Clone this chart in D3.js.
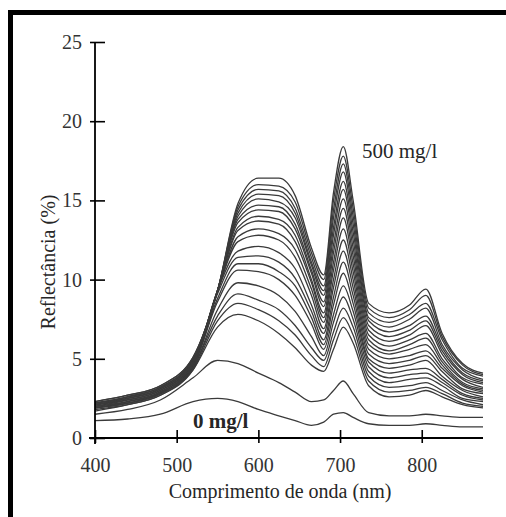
<!DOCTYPE html>
<html>
<head>
<meta charset="utf-8">
<script src="https://cdn.jsdelivr.net/npm/d3@7"></script>
<style>
  body { margin: 0; background: #fff; }
  svg { display: block; }
  text { font-family: "Liberation Serif", "Times New Roman", serif; fill: #262626; }
</style>
</head>
<body>
<svg id="chart" width="506" height="517"></svg>
<script>
// wavelength grid (nm) and reflectance (%) per concentration
const wavelengths = [400, 440, 480, 520, 550, 575, 600, 625, 645, 665, 680, 692, 704, 716, 735, 760, 785, 805, 825, 850, 875];
const r000 = [1.1, 1.2, 1.5, 2.3, 2.5, 2.3, 1.8, 1.4, 1.1, 0.8, 1.0, 1.5, 1.6, 1.3, 0.9, 0.8, 0.8, 0.9, 0.8, 0.7, 0.7];
const r025 = [1.5, 1.8, 2.4, 3.8, 4.9, 4.7, 4.1, 3.5, 2.9, 2.3, 2.4, 3.0, 3.6, 2.8, 1.6, 1.4, 1.4, 1.5, 1.4, 1.3, 1.3];
const r050 = [1.7, 2.1, 2.7, 4.3, 7.0, 7.8, 7.4, 6.6, 5.7, 4.6, 4.2, 5.6, 7.0, 6.0, 3.3, 2.6, 2.7, 3.0, 2.6, 2.1, 1.9];
const r075 = [1.8, 2.1, 2.7, 4.3, 7.4, 8.5, 8.1, 7.4, 6.5, 5.2, 4.5, 6.2, 7.6, 6.5, 3.6, 2.9, 3.0, 3.2, 2.8, 2.2, 2.0];
const r100 = [1.9, 2.2, 2.8, 4.4, 7.7, 9.1, 8.7, 8.1, 7.1, 5.7, 4.9, 6.7, 8.2, 7.0, 3.9, 3.2, 3.3, 3.5, 3.0, 2.4, 2.1];
const r125 = [1.9, 2.2, 2.8, 4.4, 8.1, 9.8, 9.6, 9.0, 8.0, 6.4, 5.2, 7.3, 8.9, 7.5, 4.2, 3.5, 3.7, 3.8, 3.3, 2.5, 2.3];
const r150 = [1.9, 2.2, 2.8, 4.5, 8.6, 10.6, 10.5, 10.0, 9.0, 7.2, 5.6, 7.8, 9.6, 8.0, 4.5, 3.8, 4.0, 4.1, 3.5, 2.7, 2.4];
const r175 = [1.9, 2.3, 2.9, 4.5, 8.8, 11.0, 11.0, 10.5, 9.6, 7.6, 5.9, 8.4, 10.4, 8.5, 4.8, 4.1, 4.3, 4.4, 3.7, 2.8, 2.5];
const r200 = [2.0, 2.3, 2.9, 4.6, 9.1, 11.4, 11.5, 11.1, 10.1, 8.0, 6.2, 8.9, 11.1, 9.0, 5.0, 4.4, 4.6, 4.9, 3.9, 3.0, 2.6];
const r225 = [2.0, 2.3, 2.9, 4.6, 9.3, 11.8, 12.1, 11.7, 10.7, 8.4, 6.6, 9.5, 11.8, 9.5, 5.3, 4.7, 4.9, 5.2, 4.2, 3.1, 2.8];
const r250 = [2.0, 2.4, 3.0, 4.7, 9.3, 12.4, 12.8, 12.5, 11.4, 9.0, 6.9, 10.0, 12.5, 10.0, 5.6, 5.0, 5.2, 5.5, 4.4, 3.3, 2.9];
const r275 = [2.1, 2.4, 3.0, 4.7, 9.3, 12.7, 13.2, 12.9, 11.9, 9.4, 7.3, 10.6, 13.2, 10.5, 5.9, 5.3, 5.6, 5.9, 4.6, 3.4, 3.0];
const r300 = [2.1, 2.4, 3.0, 4.7, 9.3, 13.1, 13.7, 13.5, 12.4, 9.8, 7.6, 11.1, 13.9, 11.0, 6.2, 5.5, 5.9, 6.3, 4.8, 3.5, 3.1];
const r325 = [2.1, 2.5, 3.1, 4.8, 9.3, 13.3, 14.0, 13.8, 12.8, 10.0, 7.9, 11.7, 14.5, 11.5, 6.5, 5.8, 6.2, 6.6, 5.0, 3.7, 3.2];
const r350 = [2.1, 2.5, 3.1, 4.8, 9.3, 13.6, 14.4, 14.3, 13.2, 10.4, 8.3, 12.2, 15.1, 12.0, 6.8, 6.1, 6.5, 7.1, 5.3, 3.8, 3.4];
const r375 = [2.2, 2.5, 3.1, 4.9, 9.3, 13.8, 14.7, 14.6, 13.5, 10.6, 8.6, 12.8, 15.7, 12.5, 7.1, 6.4, 6.8, 7.4, 5.5, 4.0, 3.5];
const r400 = [2.2, 2.6, 3.2, 4.9, 9.3, 14.0, 15.1, 14.9, 13.9, 10.9, 9.0, 13.3, 16.2, 13.0, 7.4, 6.7, 7.1, 7.7, 5.7, 4.1, 3.6];
const r425 = [2.2, 2.6, 3.2, 5.0, 9.3, 14.2, 15.4, 15.3, 14.2, 11.1, 9.3, 13.9, 16.8, 13.5, 7.6, 7.0, 7.5, 8.2, 5.9, 4.3, 3.7];
const r450 = [2.2, 2.6, 3.2, 5.0, 9.3, 14.4, 15.7, 15.6, 14.5, 11.4, 9.6, 14.4, 17.3, 14.0, 7.9, 7.3, 7.8, 8.5, 6.2, 4.4, 3.9];
const r475 = [2.3, 2.7, 3.3, 5.1, 9.3, 14.6, 16.0, 15.9, 14.9, 11.7, 10.0, 15.0, 17.8, 14.5, 8.2, 7.6, 8.1, 9.0, 6.4, 4.6, 4.0];
const r500 = [2.3, 2.7, 3.3, 5.1, 9.3, 14.8, 16.4, 16.4, 15.3, 12.0, 10.3, 15.5, 18.4, 15.0, 8.5, 7.9, 8.4, 9.4, 6.6, 4.7, 4.1];
const series = [r000, r025, r050, r075, r100, r125, r150, r175, r200, r225, r250, r275, r300, r325, r350, r375, r400, r425, r450, r475, r500];
const xTicks = [400, 500, 600, 700, 800];
const yTicks = [0, 5, 10, 15, 20, 25];

const serif = '"Liberation Serif", "Times New Roman", serif';
const svg = d3.select("#chart");
const x = d3.scaleLinear().domain([400, 875]).range([95, 483]);
const y = d3.scaleLinear().domain([0, 25]).range([438, 42]);

// scan frame (top + left edge only)
svg.append("rect").attr("x", 8).attr("y", 10).attr("width", 498).attr("height", 5).attr("fill", "#000");
svg.append("rect").attr("x", 8).attr("y", 10).attr("width", 5).attr("height", 507).attr("fill", "#000");

// curves
const line = d3.line().x((d, i) => x(wavelengths[i])).y(d => y(d)).curve(d3.curveMonotoneX);
svg.append("g").selectAll("path").data(series).join("path")
  .attr("d", line).attr("fill", "none").attr("stroke", "#3a3a3a").attr("stroke-width", 1.3);

// axes
const gx = svg.append("g").attr("transform", `translate(0,${y(0)})`)
  .call(d3.axisBottom(x).tickValues(xTicks).tickSize(0).tickPadding(20));
gx.select(".domain").remove();
gx.selectAll(".tick line").attr("y1", -8).attr("y2", 5).attr("stroke", "#000").attr("stroke-width", 1.6);
gx.selectAll(".tick text").style("font-size", "20px").style("font-family", serif).style("fill", "#333");

const gy = svg.append("g").attr("transform", `translate(${x(400)},0)`)
  .call(d3.axisLeft(y).tickValues(yTicks).tickSize(0).tickPadding(13));
gy.select(".domain").remove();
gy.selectAll(".tick line").attr("x1", -5).attr("x2", 10).attr("stroke", "#000").attr("stroke-width", 1.6);
gy.selectAll(".tick text").style("font-size", "20px").style("font-family", serif).style("fill", "#333");

svg.append("line").attr("x1", x(400)).attr("x2", x(400)).attr("y1", y(25)).attr("y2", y(0) + 6)
  .attr("stroke", "#000").attr("stroke-width", 1.8);
svg.append("line").attr("x1", x(400) - 6).attr("x2", x.range()[1]).attr("y1", y(0)).attr("y2", y(0))
  .attr("stroke", "#000").attr("stroke-width", 2);

// titles
svg.append("text").attr("x", 280).attr("y", 498).attr("text-anchor", "middle")
  .style("font-size", "20px").text("Comprimento de onda (nm)");
svg.append("text").attr("transform", "translate(55,262) rotate(-90)").attr("text-anchor", "middle")
  .style("font-size", "20px").text("Reflectância (%)");

// concentration labels
svg.append("text").attr("x", 362).attr("y", 158).style("font-size", "21px").text("500 mg/l");
svg.append("text").attr("x", 193).attr("y", 428).style("font-size", "21px").style("font-weight", "bold").text("0 mg/l");
</script>
</body>
</html>
